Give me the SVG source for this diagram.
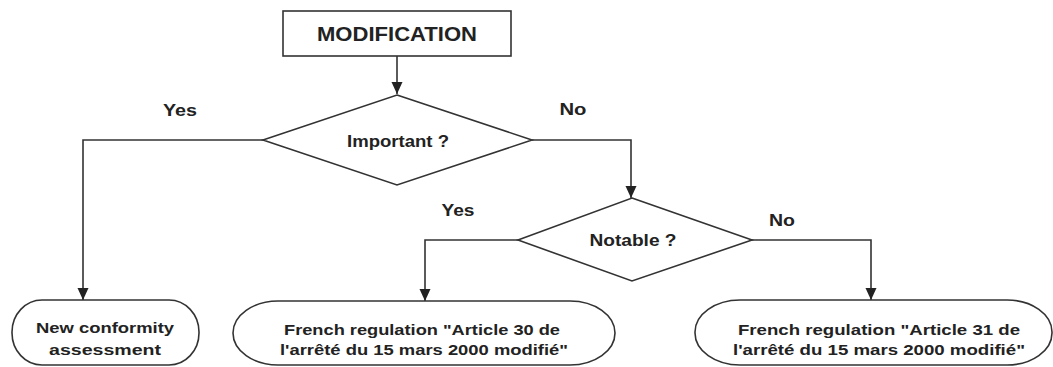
<svg xmlns="http://www.w3.org/2000/svg" width="1053" height="367" viewBox="0 0 1053 367">
<style>
.shape{fill:#fff;stroke:#333;stroke-width:1.6}
.conn{fill:none;stroke:#333;stroke-width:1.6}
text{font-family:"Liberation Sans",Arial,sans-serif;font-weight:bold;fill:#222;text-anchor:middle}
.lbl{font-size:17px}
.box{font-size:15.5px}
</style>
<defs>
<marker id="arr" markerUnits="userSpaceOnUse" markerWidth="12" markerHeight="12" refX="12" refY="6" orient="auto">
<path d="M0,0.5 L12,6 L0,11.5 z" fill="#222"/>
</marker>
</defs>
<g id="connectors">
<path class="conn" d="M397,56 V94" marker-end="url(#arr)"/>
<path class="conn" d="M263,140 H83 V300" marker-end="url(#arr)"/>
<path class="conn" d="M532,140 H631 V198" marker-end="url(#arr)"/>
<path class="conn" d="M518,240 H425 V301" marker-end="url(#arr)"/>
<path class="conn" d="M752,240 H871 V300" marker-end="url(#arr)"/>
</g>
<g id="labels">
<text class="lbl" x="180" y="116" textLength="34" lengthAdjust="spacingAndGlyphs">Yes</text>
<text class="lbl" x="573" y="115" textLength="27" lengthAdjust="spacingAndGlyphs">No</text>
<text class="lbl" x="458" y="216" textLength="33" lengthAdjust="spacingAndGlyphs">Yes</text>
<text class="lbl" x="782" y="226" textLength="26" lengthAdjust="spacingAndGlyphs">No</text>
</g>
<g id="modification">
<rect class="shape" x="283" y="11" width="228" height="45"/>
<text x="397" y="41" font-size="19.5" textLength="160" lengthAdjust="spacingAndGlyphs">MODIFICATION</text>
</g>
<g id="important">
<polygon class="shape" points="397,95 532,140 397,185 263,140"/>
<text x="398" y="147" font-size="16.5" textLength="102" lengthAdjust="spacingAndGlyphs">Important ?</text>
</g>
<g id="notable">
<polygon class="shape" points="632,198 752,240 632,281 518,240"/>
<text x="633" y="246" font-size="17" textLength="87" lengthAdjust="spacingAndGlyphs">Notable ?</text>
</g>
<g id="new-conformity">
<rect class="shape" x="12" y="300" width="187" height="65" rx="30" ry="32"/>
<text class="box" x="105" y="333" textLength="138" lengthAdjust="spacingAndGlyphs">New conformity</text>
<text class="box" x="105" y="355" textLength="112" lengthAdjust="spacingAndGlyphs">assessment</text>
</g>
<g id="article-30">
<rect class="shape" x="233" y="301" width="382" height="64" rx="45" ry="32"/>
<text class="box" x="422" y="335" textLength="276" lengthAdjust="spacingAndGlyphs">French regulation "Article 30 de</text>
<text class="box" x="424" y="355" textLength="288" lengthAdjust="spacingAndGlyphs">l'arrêté du 15 mars 2000 modifié"</text>
</g>
<g id="article-31">
<rect class="shape" x="695" y="300" width="357" height="65" rx="45" ry="32"/>
<text class="box" x="879" y="335" textLength="282" lengthAdjust="spacingAndGlyphs">French regulation "Article 31 de</text>
<text class="box" x="879" y="355" textLength="292" lengthAdjust="spacingAndGlyphs">l'arrêté du 15 mars 2000 modifié"</text>
</g>
</svg>
